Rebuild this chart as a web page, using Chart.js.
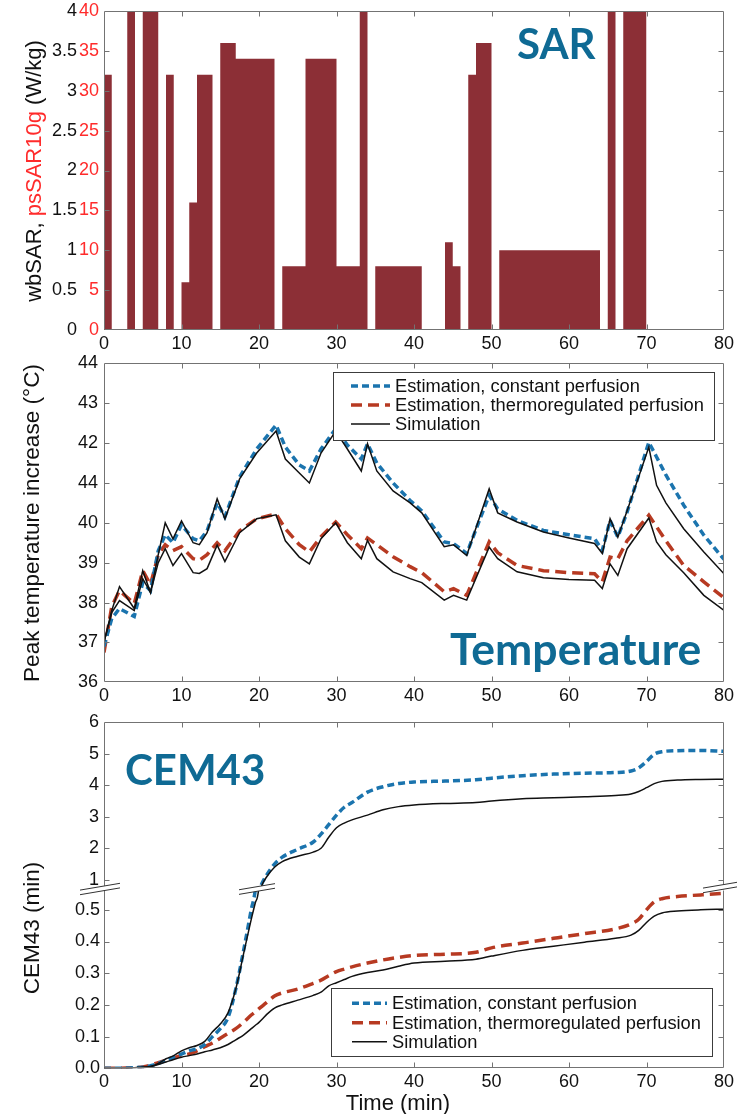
<!DOCTYPE html>
<html>
<head>
<meta charset="utf-8">
<script src="https://cdn.jsdelivr.net/npm/chart.js@4.4.0/dist/chart.umd.min.js"></script>
<style>
  body { margin: 0; background: #fff; }
  #fig { position: relative; width: 744px; height: 1114px; }
  canvas { position: absolute; left: 0; }
</style>
</head>
<body>
<div id="fig">
  <canvas id="sarChart" width="744" height="352" style="top:0"></canvas>
  <canvas id="tempChart" width="744" height="352" style="top:350px"></canvas>
  <canvas id="cemLowChart" width="744" height="414" style="top:700px"></canvas>
  <canvas id="cemHighChart" width="744" height="200" style="top:700px"></canvas>
</div>
<script>
// ---- data ----
const timeTickVals = [0, 10, 20, 30, 40, 50, 60, 70, 80];
const timeTicks = ['0', '10', '20', '30', '40', '50', '60', '70', '80'];

// SAR blocks (min), wbSAR in W/kg (psSAR10g is 10x on the red scale)
const sarStart = [0, 3, 5, 8, 10, 11, 12, 15, 17, 23, 26, 30, 33, 35, 44, 45, 47, 48, 51, 65, 67];
const sarEnd   = [1, 4, 7, 9, 11, 12, 14, 17, 22, 26, 30, 33, 34, 41, 45, 46, 48, 50, 64, 66, 70];
const sarWb    = [3.2, 4, 4, 3.2, 0.6, 1.6, 3.2, 3.6, 3.4, 0.8, 3.4, 0.8, 4, 0.8, 1.1, 0.8, 3.2, 3.6, 1.0, 4, 4];
const sarWbVals = [0, 0.5, 1, 1.5, 2, 2.5, 3, 3.5, 4];
const sarWbTicks = ['0', '0.5', '1', '1.5', '2', '2.5', '3', '3.5', '4'];
const sarPsTicks = ['0', '5', '10', '15', '20', '25', '30', '35', '40'];

// peak temperature
const tempTime = [0, 1, 2, 3.9, 5, 6, 7, 7.9, 8.9, 10, 11.5, 12.3, 13.3, 14.6, 15.6, 17.5, 19.7, 22.2, 23.4, 25.2,
  26.5, 28, 29.9, 31.4, 33.2, 34, 35.2, 37.3, 39.5, 41, 43.9, 45.1, 46.8, 49.7, 50.8, 53.3, 56.7, 60, 63.3, 64.3,
  65.3, 66.3, 67.5, 70.3, 71.3, 72.5, 74.8, 77.4, 80];
const tempEstConst = [36.9, 37.6, 37.85, 37.65, 38.5, 38.3, 39.3, 39.7, 39.5, 39.95, 39.6, 39.55, 39.8, 40.5, 40.15, 41.15, 41.85, 42.45, 41.9, 41.45,
  41.3, 41.85, 42.36, 41.95, 41.6, 41.98, 41.5, 41.0, 40.56, 40.3, 39.52, 39.48, 39.23, 40.69, 40.35, 40.06, 39.81, 39.7, 39.6, 39.31,
  40.06, 39.64, 40.27, 42.02, 41.65, 41.2, 40.44, 39.69, 39.08];
const tempSimConst = [37.0, 37.8, 38.4, 37.85, 38.8, 38.25, 39.2, 40.0, 39.6, 40.05, 39.5, 39.45, 39.75, 40.6, 40.1, 41.1, 41.75, 42.3, 41.6, 41.25,
  41.0, 41.75, 42.3, 41.85, 41.3, 41.98, 41.3, 40.8, 40.5, 40.25, 39.4, 39.45, 39.18, 40.85, 40.25, 40.02, 39.77, 39.62, 39.48, 39.23,
  40.1, 39.64, 40.3, 41.9, 40.94, 40.5, 39.85, 39.27, 38.72];
const tempEstThermo = [36.75, 37.9, 38.3, 37.97, 38.8, 38.45, 39.2, 39.45, 39.3, 39.4, 39.1, 39.06, 39.2, 39.5, 39.3, 39.8, 40.1, 40.22, 39.85, 39.45,
  39.27, 39.65, 40.02, 39.7, 39.35, 39.62, 39.45, 39.15, 38.9, 38.75, 38.27, 38.35, 38.18, 39.52, 39.25, 38.93, 38.8, 38.75, 38.72, 38.52,
  39.14, 39.1, 39.55, 40.19, 39.9, 39.55, 38.93, 38.52, 38.12];
const tempSimThermo = [37.0, 37.75, 38.05, 37.8, 38.6, 38.25, 39.0, 39.35, 38.93, 39.23, 38.75, 38.73, 38.85, 39.44, 39.03, 39.75, 40.1, 40.2, 39.55, 39.14,
  38.97, 39.6, 40.0, 39.5, 39.1, 39.56, 39.1, 38.77, 38.6, 38.5, 38.06, 38.18, 38.06, 39.39, 39.1, 38.77, 38.62, 38.58, 38.56, 38.35,
  38.97, 38.68, 39.35, 40.12, 39.52, 39.2, 38.75, 38.18, 37.8];
const tempTickVals = [36, 37, 38, 39, 40, 41, 42, 43, 44];
const tempTicks = ['36', '37', '38', '39', '40', '44', '42', '43', '44'];

// CEM43
const cemTime = [0, 2, 4, 5, 6, 7, 8, 9, 10, 11, 12, 13, 14, 15, 16, 17, 18, 19, 19.5, 20,
  20.5, 21, 22, 23, 25, 27, 28, 29, 30, 31, 32, 34, 36, 38, 40, 44, 48, 50, 54, 58,
  62, 66, 68, 69, 70, 71, 72, 74, 77, 80];
const cemEstConst = [0, 0, 0.002, 0.003, 0.008, 0.015, 0.025, 0.035, 0.045, 0.055, 0.062, 0.075, 0.1, 0.125, 0.16, 0.25, 0.37, 0.5, 0.56, 0.7,
  0.95, 1.16, 1.5, 1.72, 1.97, 2.2, 2.45, 2.75, 3.05, 3.3, 3.45, 3.78, 3.95, 4.05, 4.1, 4.13, 4.17, 4.22, 4.3, 4.35,
  4.38, 4.4, 4.45, 4.55, 4.75, 4.98, 5.06, 5.09, 5.1, 5.07];
const cemSimConst = [0, 0, 0.002, 0.003, 0.006, 0.015, 0.03, 0.04, 0.055, 0.065, 0.072, 0.085, 0.115, 0.14, 0.175, 0.25, 0.36, 0.47, 0.52, 0.58,
  0.9, 1.1, 1.4, 1.58, 1.75, 1.88, 2.0, 2.35, 2.65, 2.8, 2.9, 3.05, 3.22, 3.32, 3.37, 3.42, 3.45, 3.5, 3.57, 3.6,
  3.63, 3.67, 3.72, 3.8, 3.92, 4.05, 4.12, 4.16, 4.18, 4.19];
const cemEstThermo = [0, 0, 0.002, 0.004, 0.01, 0.018, 0.025, 0.033, 0.04, 0.045, 0.055, 0.068, 0.08, 0.095, 0.11, 0.125, 0.145, 0.168, 0.178, 0.188,
  0.198, 0.208, 0.228, 0.238, 0.25, 0.268, 0.278, 0.292, 0.305, 0.313, 0.32, 0.332, 0.342, 0.35, 0.356, 0.36, 0.366, 0.38, 0.395, 0.41,
  0.425, 0.44, 0.455, 0.47, 0.5, 0.525, 0.535, 0.542, 0.547, 0.552];
const cemSimThermo = [0, 0, 0.002, 0.003, 0.006, 0.012, 0.02, 0.028, 0.035, 0.04, 0.045, 0.052, 0.058, 0.065, 0.075, 0.09, 0.105, 0.125, 0.135, 0.145,
  0.157, 0.17, 0.19, 0.2, 0.215, 0.23, 0.24, 0.26, 0.27, 0.28, 0.29, 0.302, 0.31, 0.322, 0.332, 0.338, 0.344, 0.354, 0.372, 0.385,
  0.398, 0.41, 0.42, 0.435, 0.46, 0.48, 0.49, 0.496, 0.5, 0.502];
const cemHighVals = [1, 2, 3, 4, 5, 6];
const cemHighTicks = ['1', '2', '3', '4', '5', '6'];
const cemLowVals = [0, 0.1, 0.2, 0.3, 0.4, 0.5];
const cemLowTicks = ['0.0', '0.1', '0.2', '0.3', '0.4', '0.5'];

const legendLabels = ['Estimation, constant perfusion', 'Estimation, thermoregulated perfusion', 'Simulation'];

// ---- style ----
const FONT = '"Liberation Sans", Arial, sans-serif';
const BLUE = '#1b74ae';
const RED = '#b73a22';
const BLACK = '#111111';
const BAR = '#8c2f36';
const PS_RED = '#ff2b2b';
const LABEL_BLUE = '#0f6a94';
const AXIS = '#737373';
const legendColors = [BLUE, RED, BLACK];
const legendWidths = [3.5, 3.5, 1.5];
const legendDashes = [[7, 4], [11, 6], []];

Chart.defaults.font.family = FONT;
Chart.defaults.color = BLACK;
Chart.defaults.animation = false;

function pts(xs, ys) {
  return xs.map((x, i) => ({ x: x, y: ys[i] }));
}

// outline of the SAR blocks, walked along the time axis
function sarOutline() {
  const out = [];
  for (let i = 0; i < sarStart.length; i++) {
    if (i === 0 || sarEnd[i - 1] !== sarStart[i]) out.push({ x: sarStart[i], y: 0 });
    out.push({ x: sarStart[i], y: sarWb[i] });
    out.push({ x: sarEnd[i], y: sarWb[i] });
    if (i === sarStart.length - 1 || sarStart[i + 1] !== sarEnd[i]) out.push({ x: sarEnd[i], y: 0 });
  }
  return out;
}

function lineSet(label, data, color, width, dash, order, extra) {
  return Object.assign({
    label: label, data: data, borderColor: color, borderWidth: width, borderDash: dash,
    pointRadius: 0, fill: false, tension: 0, order: order, borderCapStyle: 'butt'
  }, extra || {});
}

// box around the plot with inward ticks (matlab style)
const framePlugin = {
  id: 'frame',
  afterDatasetsDraw(chart, args, o) {
    const ctx = chart.ctx;
    const a = chart.chartArea;
    const xs = chart.scales.x;
    const ys = chart.scales[o.yScale];
    const L = Math.round(a.left) + 0.5, R = Math.round(a.right) - 0.5;
    const T = Math.round(a.top) + 0.5, B = Math.round(a.bottom) - 0.5;
    const sides = o.sides;
    ctx.save();
    ctx.strokeStyle = AXIS;
    ctx.lineWidth = 1;
    ctx.beginPath();
    if (sides.includes('l')) { ctx.moveTo(L, T); ctx.lineTo(L, B); }
    if (sides.includes('r')) { ctx.moveTo(R, T); ctx.lineTo(R, B); }
    if (sides.includes('t')) { ctx.moveTo(L, T); ctx.lineTo(R, T); }
    if (sides.includes('b')) { ctx.moveTo(L, B); ctx.lineTo(R, B); }
    timeTickVals.forEach(v => {
      const px = Math.round(xs.getPixelForValue(v)) + 0.5;
      if (px <= L + 1 || px >= R - 1) return;
      if (sides.includes('t')) { ctx.moveTo(px, T); ctx.lineTo(px, T + 5); }
      if (sides.includes('b')) { ctx.moveTo(px, B); ctx.lineTo(px, B - 5); }
    });
    o.yVals.forEach(v => {
      const py = Math.round(ys.getPixelForValue(v)) + 0.5;
      if (py <= T + 1 || py >= B - 1) return;
      ctx.moveTo(L, py); ctx.lineTo(L + 5, py);
      ctx.moveTo(R, py); ctx.lineTo(R - 5, py);
    });
    ctx.stroke();
    ctx.restore();
  }
};

// titles and panel names
const textPlugin = {
  id: 'panelText',
  afterDraw(chart, args, o) {
    const ctx = chart.ctx;
    (o.items || []).forEach(it => {
      ctx.save();
      ctx.translate(it.x, it.y);
      if (it.rotate) ctx.rotate(it.rotate);
      ctx.font = it.font;
      ctx.textBaseline = it.baseline || 'middle';
      ctx.textAlign = 'left';
      const parts = it.parts || [{ text: it.text, color: it.color }];
      const total = parts.reduce((s, p) => s + ctx.measureText(p.text).width, 0);
      let x = it.align === 'left' ? 0 : -total / 2;
      parts.forEach(p => {
        ctx.fillStyle = p.color;
        ctx.fillText(p.text, x, 0);
        x += ctx.measureText(p.text).width;
      });
      ctx.restore();
    });
  }
};

const boxLegendPlugin = {
  id: 'boxLegend',
  afterDraw(chart, args, o) {
    if (!o.box) return;
    const ctx = chart.ctx;
    const b = o.box;
    ctx.save();
    ctx.fillStyle = '#fff';
    ctx.fillRect(b[0], b[1], b[2], b[3]);
    ctx.strokeStyle = '#3c3c3c';
    ctx.lineWidth = 1;
    ctx.strokeRect(Math.round(b[0]) + 0.5, Math.round(b[1]) + 0.5, Math.round(b[2]), Math.round(b[3]));
    legendLabels.forEach((lab, i) => {
      const y = o.rows[i];
      ctx.beginPath();
      ctx.strokeStyle = legendColors[i];
      ctx.lineWidth = legendWidths[i];
      ctx.setLineDash(legendDashes[i]);
      ctx.moveTo(o.sample[0], y);
      ctx.lineTo(o.sample[1], y);
      ctx.stroke();
      ctx.setLineDash([]);
      ctx.fillStyle = BLACK;
      ctx.font = '18.3px ' + FONT;
      ctx.textBaseline = 'middle';
      ctx.fillText(lab, o.textX, y + 1);
    });
    ctx.restore();
  }
};

// double slash marks where the CEM43 axis is broken
const breakPlugin = {
  id: 'axisBreak',
  afterDraw(chart, args, o) {
    if (!o.on) return;
    const ctx = chart.ctx;
    const a = chart.chartArea;
    const xs = chart.scales.x;
    const marks = [[a.left - 4, a.bottom - 1, 20], [xs.getPixelForValue(20) - 2, a.bottom - 1, 18], [a.right - 4, a.bottom - 2.5, 17]];
    const k = 0.17, gap = 2.3;
    ctx.save();
    marks.forEach(m => {
      const [cx, cy, hl] = m;
      const x1 = cx - hl, y1 = cy + hl * k, x2 = cx + hl, y2 = cy - hl * k;
      ctx.fillStyle = '#fff';
      ctx.beginPath();
      ctx.moveTo(x1, y1 - gap); ctx.lineTo(x2, y2 - gap); ctx.lineTo(x2, y2 + gap); ctx.lineTo(x1, y1 + gap);
      ctx.closePath();
      ctx.fill();
      ctx.strokeStyle = '#333';
      ctx.lineWidth = 1;
      ctx.beginPath();
      ctx.moveTo(x1, y1 - gap); ctx.lineTo(x2, y2 - gap);
      ctx.moveTo(x1, y1 + gap); ctx.lineTo(x2, y2 + gap);
      ctx.stroke();
    });
    ctx.restore();
  }
};

Chart.register(framePlugin, textPlugin, boxLegendPlugin, breakPlugin);

function timeAxis(height, show) {
  return {
    type: 'linear', min: 0, max: 80, display: show,
    grid: { display: false, drawTicks: false }, border: { display: false },
    ticks: {
      stepSize: 10, padding: 3, color: BLACK, maxRotation: 0, autoSkip: false,
      font: { size: 18 }, callback: (v, i) => timeTicks[i]
    },
    afterFit: s => { s.height = height; s.paddingLeft = 0; s.paddingRight = 0; }
  };
}

function valueAxis(opts, width) {
  return Object.assign({
    grid: { display: false, drawTicks: false }, border: { display: false },
    afterFit: s => { s.width = width; s.paddingTop = 0; s.paddingBottom = 0; }
  }, opts);
}

// ---- SAR ----
new Chart(document.getElementById('sarChart'), {
  type: 'line',
  data: {
    datasets: [{
      label: 'SAR', data: sarOutline(), yAxisID: 'yWb',
      backgroundColor: BAR, borderColor: 'rgba(0,0,0,0)', borderWidth: 0,
      fill: 'origin', pointRadius: 0, tension: 0
    }]
  },
  options: {
    responsive: false,
    layout: { padding: { top: 11, right: 20, bottom: 0, left: 0 } },
    scales: {
      x: timeAxis(22, true),
      yWb: valueAxis({
        position: 'left', weight: 1, min: 0, max: 4,
        ticks: { stepSize: 0.5, padding: 1, color: BLACK, font: { size: 18 }, callback: (v, i) => sarWbTicks[i] }
      }, 78),
      yPs: valueAxis({
        position: 'left', weight: 0, min: 0, max: 40,
        ticks: { stepSize: 5, padding: 5, color: PS_RED, font: { size: 18 }, callback: (v, i) => sarPsTicks[i] }
      }, 26)
    },
    plugins: {
      legend: { display: false }, tooltip: { enabled: false },
      frame: { sides: 'tblr', yScale: 'yWb', yVals: sarWbVals },
      panelText: {
        items: [
          { x: 35, y: 171, rotate: -Math.PI / 2, font: '22px ' + FONT,
            parts: [{ text: 'wbSAR, ', color: BLACK }, { text: 'psSAR10g', color: PS_RED }, { text: ' (W/kg)', color: BLACK }] },
          { x: 517, y: 59, align: 'left', baseline: 'alphabetic', font: 'bold 42px Lato', text: 'SAR', color: LABEL_BLUE }
        ]
      }
    }
  }
});

// ---- Temperature ----
new Chart(document.getElementById('tempChart'), {
  type: 'line',
  data: {
    datasets: [
      lineSet('Simulation', pts(tempTime, tempSimConst), BLACK, 1.5, [], 0),
      lineSet('Simulation (thermoregulated)', pts(tempTime, tempSimThermo), BLACK, 1.5, [], 0),
      lineSet(legendLabels[0], pts(tempTime, tempEstConst), BLUE, 3.5, legendDashes[0], 1),
      lineSet(legendLabels[1], pts(tempTime, tempEstThermo), RED, 3.5, legendDashes[1], 1)
    ]
  },
  options: {
    responsive: false,
    layout: { padding: { top: 13.3, right: 20, bottom: 0, left: 0 } },
    scales: {
      x: timeAxis(19.7, true),
      y: valueAxis({
        min: 36, max: 44,
        ticks: { stepSize: 1, padding: 6, color: BLACK, font: { size: 18 }, callback: (v, i) => tempTicks[i] }
      }, 104)
    },
    plugins: {
      legend: { display: false }, tooltip: { enabled: false },
      frame: { sides: 'tblr', yScale: 'y', yVals: tempTickVals },
      boxLegend: { box: [333, 21.7, 381, 68.3], rows: [36, 55, 74], sample: [351, 390], textX: 395 },
      panelText: {
        items: [
          { x: 33, y: 173, rotate: -Math.PI / 2, font: '22.6px ' + FONT, text: 'Peak temperature increase (°C)', color: BLACK },
          { x: 450, y: 315, align: 'left', baseline: 'alphabetic', font: 'bold 44.5px Lato', text: 'Temperature', color: LABEL_BLUE }
        ]
      }
    }
  }
});

// ---- CEM43, lower part of the broken axis ----
function cemSets() {
  const smooth = { cubicInterpolationMode: 'monotone' };
  return [
    lineSet('Simulation', pts(cemTime, cemSimConst), BLACK, 1.5, [], 0, smooth),
    lineSet('Simulation (thermoregulated)', pts(cemTime, cemSimThermo), BLACK, 1.5, [], 0, smooth),
    lineSet(legendLabels[0], pts(cemTime, cemEstConst), BLUE, 3.5, legendDashes[0], 1, smooth),
    lineSet(legendLabels[1], pts(cemTime, cemEstThermo), RED, 3.5, legendDashes[1], 1, smooth)
  ];
}

new Chart(document.getElementById('cemLowChart'), {
  type: 'line',
  data: { datasets: cemSets() },
  options: {
    responsive: false,
    layout: { padding: { top: 190, right: 20, bottom: 0, left: 0 } },
    scales: {
      x: timeAxis(45.7, true),
      y: valueAxis({
        min: 0, max: 0.5625,
        afterBuildTicks: s => { s.ticks = cemLowVals.map(v => ({ value: v })); },
        ticks: { padding: 4, color: BLACK, font: { size: 18 }, callback: (v, i) => cemLowTicks[i] }
      }, 104)
    },
    plugins: {
      legend: { display: false }, tooltip: { enabled: false },
      frame: { sides: 'blr', yScale: 'y', yVals: cemLowVals },
      boxLegend: { box: [331, 288.3, 381, 68.4], rows: [303.3, 322.7, 341.7], sample: [352, 387], textX: 392 },
      panelText: {
        items: [
          { x: 33, y: 228, rotate: -Math.PI / 2, font: '22.5px ' + FONT, text: 'CEM43 (min)', color: BLACK },
          { x: 398, y: 404, font: '22px ' + FONT, text: 'Time (min)', color: BLACK }
        ]
      }
    }
  }
});

// ---- CEM43, upper part of the broken axis ----
new Chart(document.getElementById('cemHighChart'), {
  type: 'line',
  data: { datasets: cemSets() },
  options: {
    responsive: false,
    layout: { padding: { top: 22, right: 20, bottom: 10, left: 0 } },
    scales: {
      x: timeAxis(0, false),
      y: valueAxis({
        min: 0.68, max: 6,
        afterBuildTicks: s => { s.ticks = cemHighVals.map(v => ({ value: v })); },
        ticks: { padding: 5, color: BLACK, font: { size: 18 }, callback: (v, i) => cemHighTicks[i] }
      }, 104)
    },
    plugins: {
      legend: { display: false }, tooltip: { enabled: false },
      frame: { sides: 'tlr', yScale: 'y', yVals: cemHighVals },
      axisBreak: { on: true },
      panelText: {
        items: [
          { x: 125, y: 85, align: 'left', baseline: 'alphabetic', font: 'bold 42px Lato', text: 'CEM43', color: LABEL_BLUE }
        ]
      }
    }
  }
});
</script>
</body>
</html>
